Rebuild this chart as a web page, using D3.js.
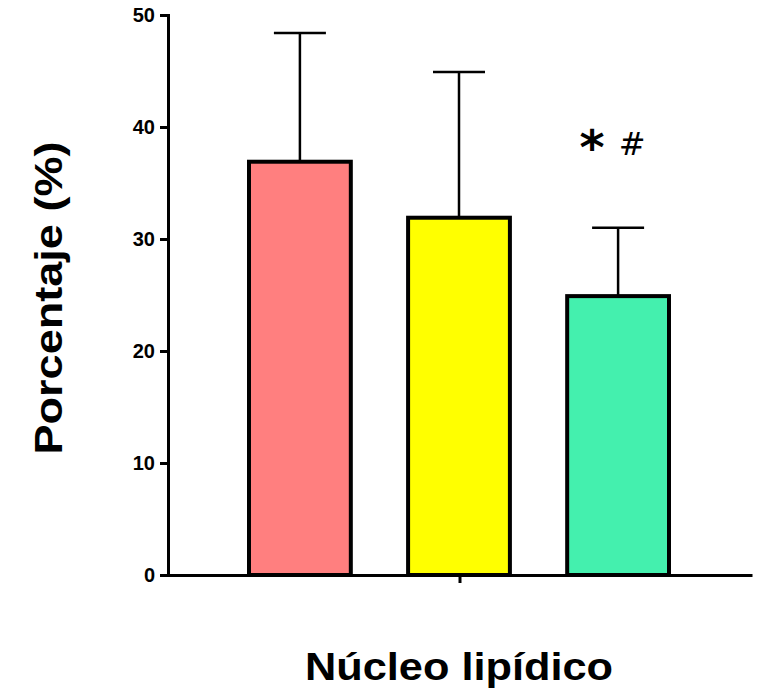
<!DOCTYPE html>
<html>
<head>
<meta charset="utf-8">
<script src="https://cdn.jsdelivr.net/npm/d3@7"></script>
<style>
  body { margin: 0; background: #fff; }
  svg { display: block; font-family: "Liberation Sans", Arial, sans-serif; }
</style>
</head>
<body>
<svg id="chart" width="760" height="695"></svg>
<script>
// Data
const groups = ['Núcleo lipídico'];
const series = ['A', 'B', 'C'];
const means = [36.9, 31.9, 24.9];
const sdUpper = [48.4, 44.9, 31.0];
const colors = ['#ff7f7f', '#ffff00', '#44f0ae'];
const yTicks = [0, 10, 20, 30, 40, 50];

// Layout
const layout = { left: 168, right: 752, top: 15, bottom: 575 };

const svg = d3.select('#chart');

// Scales
const y = d3.scaleLinear().domain([0, 50]).range([layout.bottom, layout.top]);
const xGroup = d3.scaleBand().domain(groups).range([layout.left, layout.right]);
const x = d3.scaleBand().domain(series).range([249, 669]).paddingInner(0.36).paddingOuter(0);

const bars = series.map(function(s, i) {
  return { id: s, mean: means[i], upper: sdUpper[i], color: colors[i] };
});
const cx = function(d) { return x(d.id) + x.bandwidth() / 2; };

// Error bars (drawn under the bars)
const err = svg.append('g').attr('class', 'errors')
  .attr('stroke', '#000').attr('stroke-width', 2.5);
err.selectAll('line.v').data(bars).join('line')
  .attr('class', 'v')
  .attr('x1', cx).attr('x2', cx)
  .attr('y1', function(d) { return y(d.mean); })
  .attr('y2', function(d) { return y(d.upper); });
err.selectAll('line.cap').data(bars).join('line')
  .attr('class', 'cap')
  .attr('x1', function(d) { return cx(d) - 26; })
  .attr('x2', function(d) { return cx(d) + 26; })
  .attr('y1', function(d) { return y(d.upper); })
  .attr('y2', function(d) { return y(d.upper); });

// Bars
svg.append('g').attr('class', 'bars')
  .selectAll('rect').data(bars).join('rect')
  .attr('x', function(d) { return x(d.id); })
  .attr('y', function(d) { return y(d.mean); })
  .attr('width', x.bandwidth())
  .attr('height', function(d) { return y(0) - y(d.mean); })
  .attr('fill', function(d) { return d.color; })
  .attr('stroke', '#000')
  .attr('stroke-width', 4);

// Significance marks over the third bar
const last = bars[2];
svg.append('text')
  .attr('x', cx(last) - 26)
  .attr('y', 164)
  .attr('text-anchor', 'middle')
  .attr('font-family', '"DejaVu Sans", sans-serif')
  .attr('font-weight', 'bold')
  .attr('font-size', 48)
  .text('*');
svg.append('text')
  .attr('x', cx(last) + 14)
  .attr('y', 155)
  .attr('text-anchor', 'middle')
  .attr('font-family', '"DejaVu Sans", sans-serif')
  .attr('font-size', 32)
  .text('#');

// Y axis
const yAxis = svg.append('g')
  .attr('transform', `translate(${layout.left},0)`)
  .call(d3.axisLeft(y).tickValues(yTicks).tickSize(8).tickPadding(5));
yAxis.select('.domain').attr('stroke-width', 3);
yAxis.selectAll('.tick line').attr('stroke-width', 3);
yAxis.selectAll('.tick text')
  .attr('font-size', 20).attr('font-weight', 'bold')
  .attr('font-family', '"Liberation Sans", Arial, sans-serif').attr('fill', '#000');

// X axis
const xAxis = svg.append('g')
  .attr('transform', `translate(0,${layout.bottom})`)
  .call(d3.axisBottom(xGroup).tickSize(8).tickSizeOuter(0).tickFormat(''));
xAxis.select('.domain').attr('stroke-width', 3);
xAxis.selectAll('.tick line').attr('stroke-width', 3);

// Axis titles
svg.append('text')
  .attr('x', xGroup(groups[0]) + xGroup.bandwidth() / 2 - 1)
  .attr('y', 680)
  .attr('text-anchor', 'middle')
  .attr('font-size', 38).attr('font-weight', 'bold')
  .attr('textLength', 308).attr('lengthAdjust', 'spacingAndGlyphs')
  .text(groups[0]);

svg.append('text')
  .attr('transform', 'translate(62,298) rotate(-90)')
  .attr('text-anchor', 'middle')
  .attr('font-size', 38).attr('font-weight', 'bold')
  .attr('textLength', 313).attr('lengthAdjust', 'spacingAndGlyphs')
  .text('Porcentaje (%)');
</script>
</body>
</html>
